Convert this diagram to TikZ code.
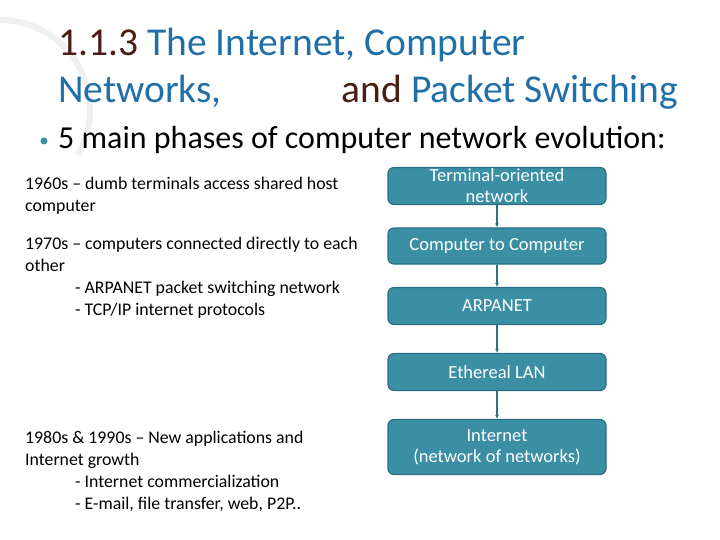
\documentclass[tikz,border=0pt]{standalone}
\usepackage{fontspec}
\setmainfont{Carlito}
\usetikzlibrary{arrows.meta}
\definecolor{tblue}{HTML}{1F6FA8}
\definecolor{tbrown}{HTML}{4A1E14}
\definecolor{boxfill}{HTML}{3A8FA5}
\definecolor{boxline}{HTML}{2A6F82}
\begin{document}
\begin{tikzpicture}[x=1pt,y=-1pt,
  phase/.style={draw=boxline,line width=1.2pt,fill=boxfill,rounded corners=6pt,text=white,minimum width=218pt,align=center,font=\fontsize{18.5}{21}\selectfont,inner sep=0pt},
  link/.style={draw=boxline,line width=1.3pt,-{Latex[length=4pt,width=4pt]}},
  body/.style={anchor=north west,align=left,font=\fontsize{17.8}{22}\selectfont,inner sep=0pt}]
\useasboundingbox (0,0) rectangle (720,540);
\fill[white] (0,0) rectangle (720,540);
\draw[black!6,line width=6pt] (0,20) arc[start angle=90,end angle=-30,radius=90pt];
\node[anchor=west,inner sep=0pt,font=\fontsize{39.5}{44}\selectfont,text=tblue] (t1) at (58,45) {\textcolor{tbrown}{1.1.3} The Internet, Computer};
\node[anchor=west,inner sep=0pt,font=\fontsize{39.5}{44}\selectfont,text=tblue] (t2) at (58,92) {Networks,\hspace{120pt}\textcolor{tbrown}{and} Packet Switching};
\node[circle,fill=boxfill,inner sep=0pt,minimum size=7pt] (bul) at (44,141) {};
\node[anchor=west,inner sep=0pt,font=\fontsize{32}{36}\selectfont] (sub) at (58,140) {5 main phases of computer network evolution:};
\node[body] (l1) at (25,177) {1960s -- dumb terminals access shared host\\computer};
\node[body] (l2) at (25,237) {1970s -- computers connected directly to each\\other\\\hspace{50pt}- ARPANET packet switching network\\\hspace{50pt}- TCP/IP internet protocols};
\node[body] (l3) at (25,431) {1980s \& 1990s -- New applications and\\Internet growth\\\hspace{50pt}- Internet commercialization\\\hspace{50pt}- E-mail, file transfer, web, P2P..};
\node[phase,minimum height=37pt] (b1) at (497,186) {Terminal-oriented\\network};
\node[phase,minimum height=36pt] (b2) at (497,246) {Computer to Computer};
\node[phase,minimum height=37pt] (b3) at (497,306) {ARPANET};
\node[phase,minimum height=37pt] (b4) at (497,372) {Ethereal LAN};
\node[phase,minimum height=55pt] (b5) at (497,447) {Internet\\(network of networks)};
\draw[link] (b1) -- (b2);
\draw[link] (b2) -- (b3);
\draw[link] (b3) -- (b4);
\draw[link] (b4) -- (b5);
\end{tikzpicture}
\end{document}
